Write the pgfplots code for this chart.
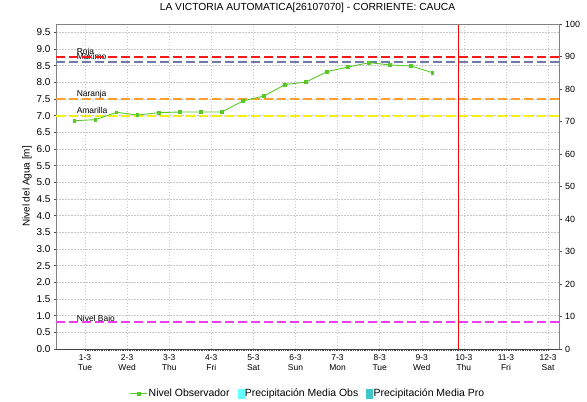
\documentclass[border=0pt]{standalone}
\usepackage{fontspec}
\setmainfont{Liberation Sans}
\usepackage{pgfplots}
\pgfplotsset{compat=1.18}

\definecolor{gridgray}{RGB}{200,200,200}
\definecolor{framegray}{RGB}{130,130,130}
\definecolor{nivelgreen}{RGB}{90,200,40}
\definecolor{rojaC}{RGB}{245,25,25}
\definecolor{maxC}{RGB}{112,122,170}
\definecolor{naranjaC}{RGB}{255,160,50}
\definecolor{amarillaC}{RGB}{245,240,20}
\definecolor{bajoC}{RGB}{240,60,240}
\definecolor{precobs}{RGB}{102,255,255}
\definecolor{precpro}{RGB}{64,200,200}

% nivel observado, cada 12 h
\pgfplotstableread{
x     y
0.75  6.85
1.25  6.88
1.75  7.10
2.25  7.02
2.75  7.09
3.25  7.11
3.75  7.11
4.25  7.11
4.75  7.44
5.25  7.59
5.75  7.93
6.25  8.01
6.75  8.32
7.25  8.46
7.75  8.59
8.25  8.52
8.75  8.49
9.25  8.29
}\nivel

\begin{document}
\begin{tikzpicture}
\useasboundingbox (-56bp,-53bp) rectangle (531bp,349bp);
\begin{axis}[
    name=ax,
    at={(0,0)}, anchor=south west,
    scale only axis,
    width=503bp, height=325bp,
    xmin=0.311, xmax=12.26,
    ymin=0, ymax=9.75,
    xtick={1,...,12},
    xticklabels={{1-3\\Tue},{2-3\\Wed},{3-3\\Thu},{4-3\\Fri},{5-3\\Sat},{6-3\\Sun},
                 {7-3\\Mon},{8-3\\Tue},{9-3\\Wed},{10-3\\Thu},{11-3\\Fri},{12-3\\Sat}},
    xticklabel style={align=center, font=\fontsize{8.5}{10}\selectfont},
    ytick={0,0.5,...,9.5},
    yticklabel style={font=\fontsize{10}{12}\selectfont,
        /pgf/number format/.cd, fixed, fixed zerofill, precision=1, assume math mode=true},
    axis y line*=left,
    axis x line*=bottom,
    x axis line style={draw=black!75, line width=0.8bp},
    y axis line style={draw=framegray},
    tick align=outside,
    major tick length=2bp,
    minor x tick num=23,
    minor tick length=1.5bp,
    tick style={draw=black!70, line width=0.4bp},
    grid=major,
    major grid style={draw=gridgray, dash pattern=on 1.5bp off 1.5bp, line width=0.5bp},
    title={LA VICTORIA AUTOMATICA[26107070] - CORRIENTE: CAUCA},
    title style={font=\fontsize{10.3}{12}\selectfont, anchor=base,
        at={(axis description cs:0.5,1)}, yshift=8bp},
    ylabel={Nivel del Agua [m]},
    ylabel style={font=\fontsize{10}{12}\selectfont,
        at={(axis description cs:-0.0577,0.5)}, anchor=center},
    legend style={at={(axis description cs:0.5,-0.138)}, anchor=center,
        draw=none, fill=none, font=\fontsize{10.5}{12}\selectfont,
        nodes={inner sep=1bp},
        /tikz/every even column/.append style={column sep=7bp}},
    legend columns=-1,
    clip=false,
]
% etiquetas de umbrales (debajo de las lineas)
\node[anchor=base west, inner sep=0, font=\fontsize{8.5}{10}\selectfont] at (axis cs:0.80,8.77) [yshift=2bp] {Roja};
\node[anchor=base west, inner sep=0, font=\fontsize{8.5}{10}\selectfont] at (axis cs:0.80,8.61) [yshift=2.5bp] {Maximo};
\node[anchor=base west, inner sep=0, font=\fontsize{8.5}{10}\selectfont] at (axis cs:0.80,7.50) [yshift=2.5bp] {Naranja};
\node[anchor=base west, inner sep=0, font=\fontsize{8.5}{10}\selectfont] at (axis cs:0.80,7.00) [yshift=2.5bp] {Amarilla};
\node[anchor=base west, inner sep=0, font=\fontsize{8.5}{10}\selectfont] at (axis cs:0.80,0.80) [yshift=1bp] {Nivel Bajo};

% umbrales
\addplot[rojaC, line width=2.2bp, dash pattern=on 9bp off 4bp, forget plot] coordinates {(0.311,8.77) (12.26,8.77)};
\addplot[maxC, line width=2.2bp, dash pattern=on 9bp off 4bp, forget plot] coordinates {(0.311,8.61) (12.26,8.61)};
\addplot[naranjaC, line width=2.2bp, dash pattern=on 9bp off 4bp, forget plot] coordinates {(0.311,7.50) (12.26,7.50)};
\addplot[amarillaC, line width=2.2bp, dash pattern=on 9bp off 4bp, forget plot] coordinates {(0.311,7.00) (12.26,7.00)};
\addplot[bajoC, line width=2.2bp, dash pattern=on 9bp off 4bp, forget plot] coordinates {(0.311,0.80) (12.26,0.80)};

% hora actual
\addplot[red, line width=0.9bp, forget plot] coordinates {(9.87,0) (9.87,9.75)};

% nivel observado
\addplot[nivelgreen, line width=0.9bp, mark=square*, mark size=1.3bp,
    mark options={fill=nivelgreen, draw=nivelgreen}] table[x=x, y=y] {\nivel};
\addlegendentry{Nivel Observador}
\addlegendimage{legend image code/.code={\fill[precobs] (0bp,-4.5bp) rectangle (6bp,5bp);}}
\addlegendentry{Precipitación Media Obs}
\addlegendimage{legend image code/.code={\fill[precpro] (0bp,-4.5bp) rectangle (6bp,5bp);}}
\addlegendentry{Precipitación Media Pro}
\end{axis}

\begin{axis}[
    at={(0,0)}, anchor=south west,
    scale only axis,
    width=503bp, height=325bp,
    xmin=0.311, xmax=12.26,
    ymin=0, ymax=100,
    axis x line=none,
    axis y line*=right,
    y axis line style={draw=framegray, line width=0.6bp},
    ytick={0,10,...,100},
    yticklabel style={font=\fontsize{9}{11}\selectfont,
        /pgf/number format/assume math mode=true},
    tick align=outside,
    major tick length=2.5bp,
    tick style={draw=black!70, line width=0.4bp},
]
\end{axis}
% marco superior
\draw[framegray, line width=0.6bp] (0,325bp) -- (503bp,325bp);
\end{tikzpicture}
\end{document}
